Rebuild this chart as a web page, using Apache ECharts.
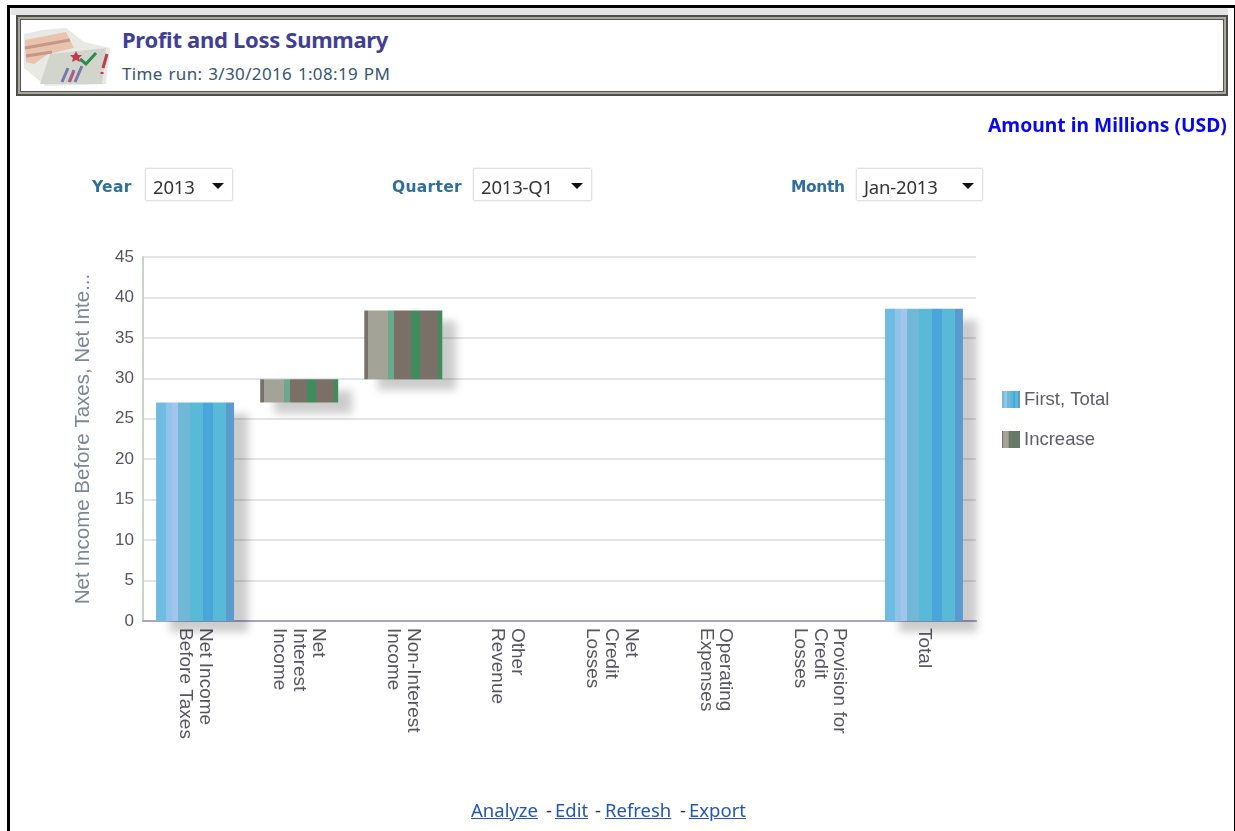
<!DOCTYPE html>
<html>
<head>
<meta charset="utf-8">
<style>
html,body{margin:0;padding:0;background:#fff;width:1235px;height:831px;overflow:hidden}
body{filter:blur(.45px)}
#main{position:absolute;left:0;top:0;width:1235px;height:831px}
.abs{position:absolute;white-space:nowrap;z-index:5}
#outer{position:absolute;left:7px;top:5px;width:1224px;height:840px;border:3px solid #000;z-index:4;pointer-events:none}
#head{position:absolute;left:16px;top:15px;width:1208px;height:77px;border:2px solid #4f4f48;background:#fff;box-shadow:inset 0 0 0 2px #a8a8a0,inset 0 0 0 3px #55554e;z-index:1}
#headtop{position:absolute;left:11px;top:8px;width:1217px;height:7px;background:#e4e4e4;z-index:1}
.title{left:122px;top:24px;font:bold 22px "Noto Sans",sans-serif;color:#3f3f96;letter-spacing:-.3px}
.run{left:122px;top:62px;font:17px "Noto Sans",sans-serif;color:#35566e;letter-spacing:.35px;word-spacing:1px}
.amt{left:988px;top:111px;font:bold 19.3px "Noto Sans",sans-serif;color:#0808ee}
.lab{font:bold 15.5px "DejaVu Sans",sans-serif;color:#2f6f9c;top:178px;letter-spacing:.3px}
.sel{top:168px;height:33px;border:1px solid #e2e2e2;border-radius:2px;box-shadow:0 0 2px #ddd;font:18.5px/35px "Noto Sans",sans-serif;color:#333;box-sizing:border-box;padding-left:7px;background:#fff;letter-spacing:-.2px}
.sel i{position:absolute;right:8px;top:14px;width:0;height:0;border:6px solid transparent;border-top:6px solid #111;border-bottom:0}
.lk{top:797px;font:18.5px "Noto Sans",sans-serif;color:#333}
a.lk{color:#2358ad;text-decoration:underline}
</style>
</head>
<body>
<div id="main"></div>
<div id="outer"></div>
<div id="headtop"></div>
<div id="head"></div>
<svg class="abs" style="left:22px;top:24px" width="90" height="64" viewBox="0 0 90 64">
  <path d="M2 10 L20 6 L44 4 L62 18 L88 24 L84 60 L24 62 L2 44Z" fill="#e8e8e4"/>
  <path d="M3 16 L44 8 L52 24 L26 30 L12 40 L4 38Z" fill="#e9c3ae"/>
  <path d="M3 24 L48 16 M4 32 L30 28" stroke="#c5988a" stroke-width="3"/>
  <path d="M28 30 L84 24 L80 60 L18 60Z" fill="#d2d5cc"/>
  <path d="M40 58 L46 44 M47 58 L52 46 M53 58 L60 42" stroke="#7b78a8" stroke-width="3"/>
  <path d="M48 58 L52 48" stroke="#d64a70" stroke-width="2"/>
  <path d="M58 35 L64 40 L74 29" fill="none" stroke="#2c8a4a" stroke-width="3"/>
  <path d="M54 27 L56 31 L60 31 L57 34 L58 38 L54 36 L50 38 L51 34 L48 31 L52 31Z" fill="#c23a50"/>
  <path d="M81 44 L85 30 M80 48 L80 50" stroke="#c23a50" stroke-width="3"/>
</svg>
<div class="abs title">Profit and Loss Summary</div>
<div class="abs run">Time run: 3/30/2016 1:08:19 PM</div>
<div class="abs amt">Amount in Millions (USD)</div>
<div class="abs lab" style="left:92px">Year</div>
<div class="abs sel" style="left:145px;width:88px">2013<i></i></div>
<div class="abs lab" style="left:392px">Quarter</div>
<div class="abs sel" style="left:473px;width:119px">2013-Q1<i></i></div>
<div class="abs lab" style="left:791px;letter-spacing:-.4px">Month</div>
<div class="abs sel" style="left:856px;width:127px">Jan-2013<i></i></div>
<a class="abs lk" style="left:471px">Analyze</a>
<span class="abs lk" style="left:546px">-</span>
<a class="abs lk" style="left:555px">Edit</a>
<span class="abs lk" style="left:595px">-</span>
<a class="abs lk" style="left:605px">Refresh</a>
<span class="abs lk" style="left:680px">-</span>
<a class="abs lk" style="left:689px">Export</a>

<script src="https://cdn.jsdelivr.net/npm/echarts@6/dist/echarts.min.js"></script>
<script>
const categories = ["Net Income\nBefore Taxes","Net\nInterest\nIncome","Non-Interest\nIncome","Other\nRevenue","Net\nCredit\nLosses","Operating\nExpenses","Provision for\nCredit\nLosses","Total"];
const baseValues = [0, 27, 29.9, 0, 0, 0, 0, 0];
const firstTotal = [27, null, null, null, null, null, null, 38.6];
const increase   = [null, 2.9, 8.5, null, null, null, null, null];
const yTicks = {min:0, max:45, interval:5};
const axisName = "Net Income Before Taxes, Net Inte...";

function stripes(list){
  const stops=[];
  list.forEach(s=>{stops.push({offset:s[0],color:s[2]});stops.push({offset:s[1],color:s[2]});});
  return {type:'linear',x:0,y:0,x2:1,y2:0,colorStops:stops};
}
const blue = stripes([[0,.13,'#6fbbe2'],[.13,.2,'#8fc3ea'],[.2,.28,'#a3c4ec'],[.28,.44,'#70b8d6'],[.44,.6,'#58bad6'],[.6,.73,'#4aa6da'],[.73,.9,'#58bad6'],[.9,1,'#5b9acd']]);
const gray = stripes([[0,.05,'#7a7068'],[.05,.31,'#a4a398'],[.31,.38,'#6aa98d'],[.38,.6,'#7a7068'],[.6,.71,'#3f8d5c'],[.71,.95,'#7a7068'],[.95,1,'#3f8d5c']]);
const shadow = {shadowColor:'rgba(0,0,0,0.2)',shadowBlur:8,shadowOffsetX:14,shadowOffsetY:11};

const chart = echarts.init(document.getElementById('main'),null,{renderer:'canvas'});
chart.setOption({
  animation:false,
  backgroundColor:'#fff',
  grid:{left:143,right:259,top:257,bottom:210,containLabel:false},
  legend:{
    left:997,top:385,orient:'vertical',itemWidth:18,itemHeight:17,itemGap:21,icon:'rect',
    data:['First, Total','Increase'],
    textStyle:{fontFamily:'"Liberation Sans",sans-serif',fontSize:18.5,color:'#5c5c6c',padding:[0,0,0,-1]},
    selectedMode:false
  },
  xAxis:{
    type:'category',data:categories,
    axisLine:{lineStyle:{color:'#a6a6c0',width:2}},
    axisTick:{show:false},
    axisLabel:{rotate:-90,interval:0,margin:7,color:'#555560',fontFamily:'"Liberation Sans",sans-serif',fontSize:19,lineHeight:19.5}
  },
  yAxis:{
    type:'value',min:yTicks.min,max:yTicks.max,interval:yTicks.interval,
    name:axisName,nameLocation:'middle',nameGap:49,nameRotate:90,
    nameTextStyle:{color:'#7b8698',fontFamily:'"Liberation Sans",sans-serif',fontSize:20.5},
    axisLine:{show:true,lineStyle:{color:'#c6d6c6',width:2}},
    axisTick:{show:false},
    axisLabel:{margin:9,color:'#555560',fontFamily:'"Liberation Sans",sans-serif',fontSize:17},
    splitLine:{lineStyle:{color:'#e4e4e4',width:2}}
  },
  series:[
    {name:'base',type:'bar',stack:'w',data:baseValues,barWidth:78,silent:true,itemStyle:{color:'rgba(0,0,0,0)'}},
    {name:'First, Total',type:'bar',stack:'w',data:firstTotal,barWidth:78,clip:false,itemStyle:Object.assign({color:blue},shadow)},
    {name:'Increase',type:'bar',stack:'w',data:increase,barWidth:78,clip:false,itemStyle:Object.assign({color:gray},shadow)}
  ]
});
</script>
</body>
</html>
